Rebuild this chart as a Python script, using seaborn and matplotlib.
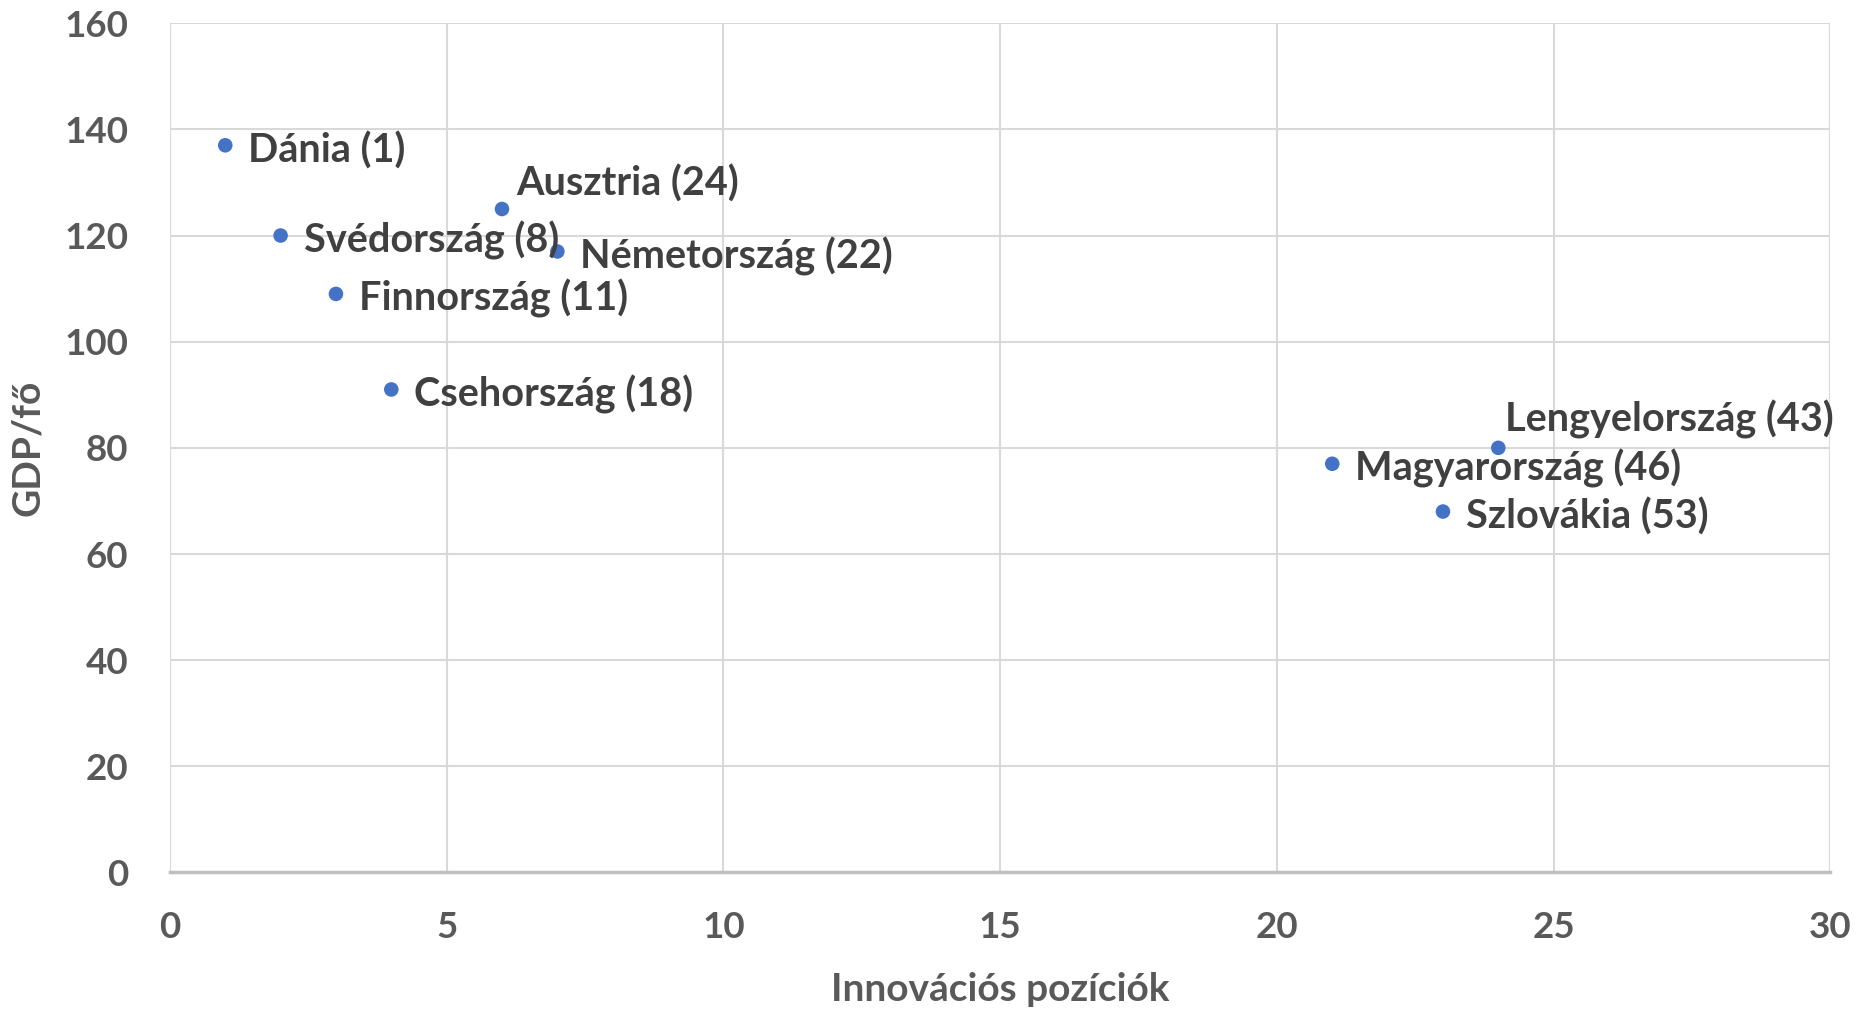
import matplotlib
matplotlib.use("Agg")
import matplotlib.pyplot as plt
import seaborn as sns
import pandas as pd

# data
countries = ["Dánia (1)", "Svédország (8)", "Finnország (11)", "Csehország (18)",
             "Ausztria (24)", "Németország (22)", "Magyarország (46)",
             "Lengyelország (43)", "Szlovákia (53)"]
innovation_pos = [1, 2, 3, 4, 6, 7, 21, 24, 23]
gdp_per_capita = [137, 120, 109, 91, 125, 117, 77, 80, 68]

x_ticks = [0, 5, 10, 15, 20, 25, 30]
y_ticks = [0, 20, 40, 60, 80, 100, 120, 140, 160]

df = pd.DataFrame({"x": innovation_pos, "y": gdp_per_capita, "label": countries})

sns.set_theme(style="whitegrid")
plt.rcParams["font.family"] = ["Lato", "DejaVu Sans"]
plt.rcParams["font.weight"] = "bold"

fig = plt.figure(figsize=(18.67, 10.09), dpi=100)
ax = fig.add_axes([0.091, 0.1353, 0.8894, 0.8417])

sns.scatterplot(data=df, x="x", y="y", ax=ax, color="#4472C4", s=110,
                edgecolor="none", zorder=3)

# label offsets (points) - most sit right of the point, two above-right
offsets = {"Ausztria (24)": (10.5, 18), "Lengyelország (43)": (4.5, 20.5)}
for xv, yv, lab in zip(df["x"], df["y"], df["label"]):
    dx, dy = offsets.get(lab, (16.5, -3.5))
    ax.annotate(lab, (xv, yv), xytext=(dx, dy), textcoords="offset points",
                ha="left", va="center", fontsize=28.5, fontweight="bold",
                color="#404040")

ax.set_xlim(0, 30)
ax.set_ylim(0, 160)
ax.set_xticks(x_ticks)
ax.set_yticks(y_ticks)
ax.tick_params(axis="both", labelsize=26.5, colors="#595959", length=0)
ax.tick_params(axis="x", pad=28)
ax.tick_params(axis="y", pad=30)
for t in ax.get_xticklabels() + ax.get_yticklabels():
    t.set_fontweight("bold")

ax.grid(True, color="#d9d9d9", linewidth=1.5)
for side in ["left", "right", "top"]:
    ax.spines[side].set_visible(False)
ax.spines["bottom"].set_color("#bfbfbf")
ax.spines["bottom"].set_linewidth(2.5)
ax.set_facecolor("white")

ax.set_xlabel("Innovációs pozíciók", fontsize=28, fontweight="bold",
              color="#595959", labelpad=20)
ax.set_ylabel("GDP/fő", fontsize=28, fontweight="bold", color="#595959",
              labelpad=14)

fig.savefig("out.png", dpi=100, facecolor="white")
